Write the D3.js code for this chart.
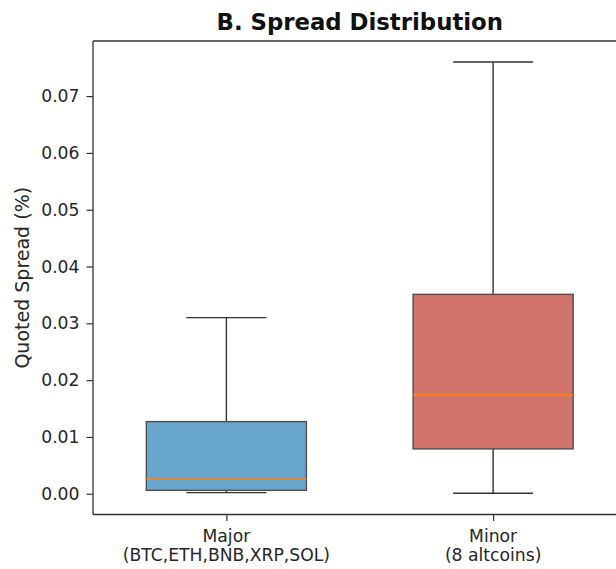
<!DOCTYPE html>
<html>
<head>
<meta charset="utf-8">
<script src="https://cdn.jsdelivr.net/npm/d3@7"></script>
<style>
  html, body { margin: 0; padding: 0; background: #fff; }
  svg { display: block; font-family: "DejaVu Sans", sans-serif; }
</style>
</head>
<body>
<svg id="chart" width="616" height="569"></svg>
<script>
// ---- Data ----
const categories = ["Major\n(BTC,ETH,BNB,XRP,SOL)", "Minor\n(8 altcoins)"];
const positions = [1, 2];
const whiskerLow = [0.0002, 0.0001];
const q1 = [0.0006, 0.0079];
const median = [0.0026, 0.0174];
const q3 = [0.0127, 0.0351];
const whiskerHigh = [0.031, 0.076];
const boxColors = ["rgb(105,166,206)", "rgb(210,116,106)"];
const yTicks = [0, 0.01, 0.02, 0.03, 0.04, 0.05, 0.06, 0.07];
const title = "B. Spread Distribution";
const yLabel = "Quoted Spread (%)";

// ---- Layout ----
const svg = d3.select("#chart");
const mLeft = 93, mRight = 626.5, mTop = 41, mBottom = 514.5;

const x = d3.scaleLinear().domain([0.5, 2.5]).range([mLeft, mRight]);
const y = d3.scaleLinear().domain([-0.00365, 0.0797]).range([mBottom, mTop]);

const boxW = 0.6;   // in data units
const capW = 0.3;

const g = svg.append("g");

positions.forEach((p, i) => {
  const x0 = x(p - boxW / 2), x1 = x(p + boxW / 2);
  const cx = x(p);
  g.append("line").attr("x1", cx).attr("x2", cx)
    .attr("y1", y(q3[i])).attr("y2", y(whiskerHigh[i]))
    .attr("stroke", "#333").attr("stroke-width", 1.4);
  g.append("line").attr("x1", cx).attr("x2", cx)
    .attr("y1", y(q1[i])).attr("y2", y(whiskerLow[i]))
    .attr("stroke", "#333").attr("stroke-width", 1.4);
  [whiskerHigh[i], whiskerLow[i]].forEach(v => {
    g.append("line").attr("x1", x(p - capW / 2)).attr("x2", x(p + capW / 2))
      .attr("y1", y(v)).attr("y2", y(v))
      .attr("stroke", "#333").attr("stroke-width", 1.4);
  });
  g.append("rect")
    .attr("x", x0).attr("y", y(q3[i]))
    .attr("width", x1 - x0).attr("height", y(q1[i]) - y(q3[i]))
    .attr("fill", boxColors[i])
    .attr("stroke", "#4d4d4d").attr("stroke-width", 1.4);
  g.append("line").attr("x1", x0).attr("x2", x1)
    .attr("y1", y(median[i])).attr("y2", y(median[i]))
    .attr("stroke", "#ff7f0e").attr("stroke-width", 1.6);
});

// spines
const spine = svg.append("g").attr("fill", "none").attr("stroke", "#333").attr("stroke-width", 1.3);
spine.append("line").attr("x1", mLeft).attr("x2", mLeft).attr("y1", mTop).attr("y2", mBottom);
spine.append("line").attr("x1", mLeft).attr("x2", mRight).attr("y1", mTop).attr("y2", mTop);
spine.append("line").attr("x1", mLeft).attr("x2", mRight).attr("y1", mBottom).attr("y2", mBottom);
spine.append("line").attr("x1", mRight).attr("x2", mRight).attr("y1", mTop).attr("y2", mBottom);

// y axis
const yAxis = d3.axisLeft(y).tickValues(yTicks).tickFormat(d3.format(".2f")).tickSize(6.5).tickPadding(7);
const ya = svg.append("g").attr("transform", `translate(${mLeft},0)`).call(yAxis);
ya.select(".domain").remove();
ya.selectAll(".tick line").attr("stroke", "#333").attr("stroke-width", 1.2);
ya.selectAll(".tick text").attr("fill", "#262626").style("font-size", "17.2px")
  .style("font-family", "DejaVu Sans, sans-serif");

// x axis
const xAxis = d3.axisBottom(x).tickValues(positions).tickFormat("").tickSize(6.5);
const xa = svg.append("g").attr("transform", `translate(0,${mBottom})`).call(xAxis);
xa.select(".domain").remove();
xa.selectAll(".tick line").attr("stroke", "#333").attr("stroke-width", 1.2);
positions.forEach((p, i) => {
  const lines = categories[i].split("\n");
  const t = svg.append("text").attr("x", x(p)).attr("y", 542)
    .attr("text-anchor", "middle").attr("fill", "#262626")
    .style("font-size", "17.2px");
  lines.forEach((ln, k) => {
    t.append("tspan").attr("x", x(p)).attr("dy", k === 0 ? 0 : 19).text(ln);
  });
});

// y label
svg.append("text")
  .attr("transform", `translate(29,${(mTop + mBottom) / 2}) rotate(-90)`)
  .attr("text-anchor", "middle").attr("fill", "#262626")
  .style("font-size", "19px").text(yLabel);

// title
svg.append("text").attr("x", (mLeft + mRight) / 2).attr("y", 30)
  .attr("text-anchor", "middle").attr("fill", "#111")
  .style("font-size", "22.8px").style("font-weight", "bold").text(title);
</script>
</body>
</html>
